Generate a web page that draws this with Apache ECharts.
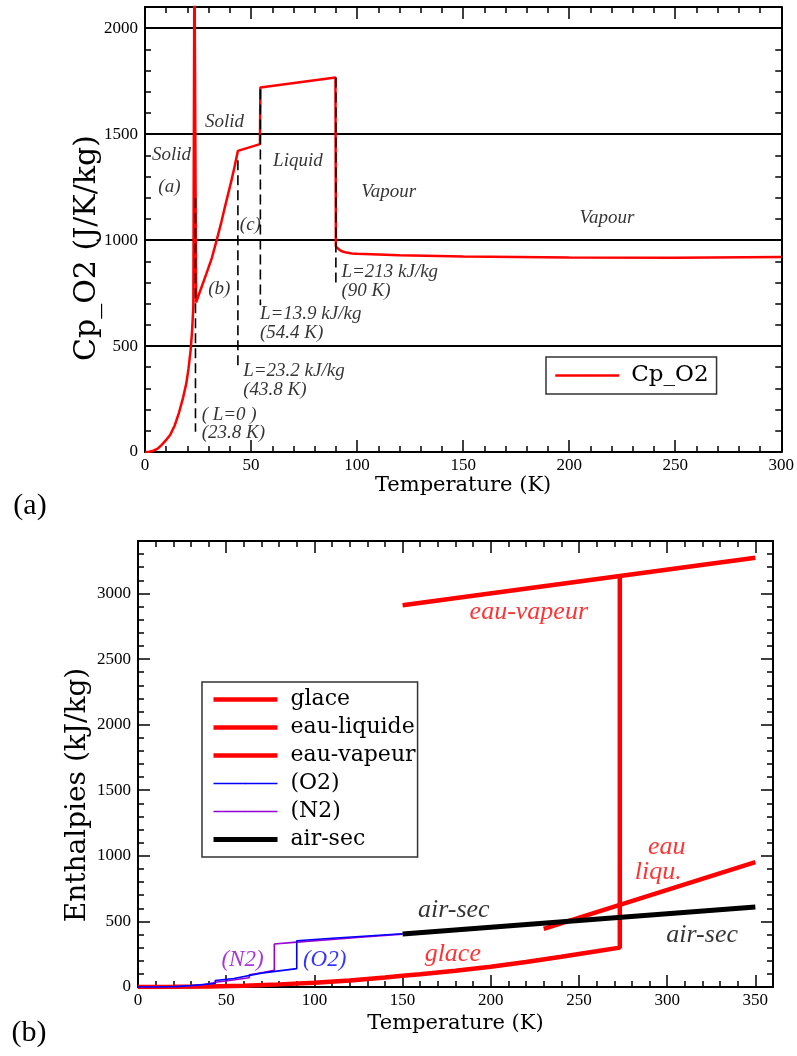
<!DOCTYPE html>
<html><head><meta charset="utf-8">
<script src="https://cdn.jsdelivr.net/npm/echarts@6/dist/echarts.min.js"></script>
<style>html,body{margin:0;padding:0;background:#fff}#c{width:797px;height:1056px}</style>
</head><body><div id="c"></div><script>
// ---------- Panel (a): Cp of O2 ----------
const cpO2 = [[0,0],[2,1],[4,6],[6,16],[8,35],[10,57],[12,83],[14,125],[16,185],[18,258],[19.5,325],[20.5,392],[21.5,480],[22.2,570],[22.8,690],[23.3,2400],[23.8,2400],[24.1,705],[26,760],[29,843],[31.5,915],[33.8,1000],[36,1085],[37.7,1157],[39.5,1230],[40.8,1283],[42.3,1350],[43.8,1421],[54.2,1453],[54.4,1720],[89.8,1767],[90,970],[91,960],[92,952],[93.5,945],[95,941],[97.5,937],[100,935],[120,928],[150,922],[200,918],[250,917],[300,920]];
const latentT = [23.8, 43.8, 54.4, 90];
const dashTop = [1197, 1377, 1711, 1767];
const dashBottom = [96, 395, 693, 799];
const notesA = [
  ['Solid', 3.3, 1401], ['Solid', 28.3, 1558], ['(a)', 6.3, 1252], ['(b)', 29.8, 767],
  ['(c)', 44.7, 1071], ['Liquid', 60.4, 1373], ['Vapour', 102, 1228], ['Vapour', 204.9, 1105],
  ['L=213 kJ/kg', 92.6, 850], ['(90 K)', 92.6, 761],
  ['L=13.9 kJ/kg', 54.2, 651], ['(54.4 K)', 54.2, 560],
  ['L=23.2 kJ/kg', 46.3, 384], ['(43.8 K)', 46.3, 292],
  ['( L=0 )', 26.7, 175], ['(23.8 K)', 26.7, 88]
];
// ---------- Panel (b): enthalpies ----------
const glace = [[0,0],[20,1],[40,4],[60,10],[80,20],[100,33],[120,50],[140,72],[150,85],[160,97],[180,124],[200,155],[220,190],[240,230],[260,272],[273.15,300],[273.15,3134]];
const eauLiquide = [[230,443],[350,952]];
const eauVapeur = [[150,2910],[350,3272]];
const o2H = [[0,0],[10,0.5],[20,3],[23.8,5],[30,11],[43.8,27],[43.8,50],[54.4,65],[54.4,79],[70,106],[90,140],[90,353],[110,372],[130,389],[150,406]];
const n2H = [[0,0],[10,0.5],[20,3],[30,9],[35.6,14],[35.6,22],[45,38],[55,55],[63.1,70],[63.1,93],[70,108],[77.3,127],[77.3,328],[90,342],[110,362],[130,383],[150,403]];
const airSec = [[150,404],[350,609]];
const notesB = [
  ['eau-vapeur', 188, 2859, '#ff0000', 26], ['eau', 289.1, 1066, '#ff0000', 26], ['liqu.', 281.6, 873, '#ff0000', 26],
  ['air-sec', 158.7, 584, '#000000', 26], ['air-sec', 299.5, 394, '#000000', 26], ['glace', 162.5, 247, '#ff0000', 26],
  ['(N2)', 47.3, 209, '#9400d3', 23], ['(O2)', 93.5, 209, '#0000ff', 23]
];

const RED = '#ff0000', BLUE = '#0000ff', PURPLE = '#9400d3';
const serif = 'Liberation Serif';
const tickStyle = {color:'#000', width:1.5};
const plain = v => String(v);

function xAx(grid, max, pos, name, gap) {
  return {
    gridIndex: grid, type: 'value', min: 0, max: max, interval: 50, position: pos,
    axisLine: {onZero: false, lineStyle: {color:'#000', width: 2}},
    axisTick: {inside: true, length: 12, lineStyle: tickStyle},
    minorTick: {show: true, splitNumber: 5, length: 6, lineStyle: tickStyle},
    axisLabel: {show: pos === 'bottom', formatter: plain, fontFamily: serif, fontSize: 17, color: '#000', margin: 5, showMaxLabel: max === 300},
    splitLine: {show: false},
    name: pos === 'bottom' ? name : '', nameLocation: 'middle', nameGap: gap,
    nameTextStyle: {fontFamily: 'DejaVu Serif', fontSize: 21, color: '#000'}
  };
}
function yAx(grid, max, pos, split) {
  return {
    gridIndex: grid, type: 'value', min: 0, max: max, interval: 500, position: pos,
    axisLine: {onZero: false, lineStyle: {color:'#000', width: 2}},
    axisTick: {inside: true, length: 12, lineStyle: tickStyle},
    minorTick: {show: true, splitNumber: 5, length: 6, lineStyle: tickStyle},
    axisLabel: {show: pos === 'left', formatter: plain, fontFamily: serif, fontSize: 17, color: '#000', margin: 7, showMaxLabel: false},
    splitLine: {show: split, lineStyle: {color: '#000', width: 1.8}}
  };
}

function noteSeries(notes, xi, yi, defColor, defSize) {
  return {
    type: 'scatter', xAxisIndex: xi, yAxisIndex: yi, symbolSize: 0, silent: true, z: 10,
    data: notes.map(n => ({
      value: [n[1], n[2]],
      label: {formatter: n[0], color: n[3] || defColor, fontSize: n[4] || defSize}
    })),
    label: {show: true, position: [0, 0], align: 'left', verticalAlign: 'middle',
            fontFamily: serif, fontStyle: 'italic'}
  };
}

const series = [];
series.push({name: 'Cp_O2', type: 'line', xAxisIndex: 0, yAxisIndex: 0, data: cpO2, symbol: 'none',
  lineStyle: {color: RED, width: 2.5}, itemStyle: {color: RED}, z: 3, clip: true});
latentT.forEach((t, i) => {
  series.push({name: 'latent' + i, type: 'line', xAxisIndex: 0, yAxisIndex: 0, symbol: 'none', z: 4,
    data: [[t, dashTop[i]], [t, dashBottom[i]]],
    lineStyle: {color: '#000', width: 1.6, type: [10, 5]}});
});
series.push(noteSeries(notesA, 0, 0, '#000', 19));

series.push({name: 'glace', type: 'line', xAxisIndex: 2, yAxisIndex: 2, data: glace, symbol: 'none',
  lineStyle: {color: RED, width: 4.5}, itemStyle: {color: RED}, z: 3});
series.push({name: 'eau-liquide', type: 'line', xAxisIndex: 2, yAxisIndex: 2, data: eauLiquide, symbol: 'none',
  lineStyle: {color: RED, width: 4.5}, itemStyle: {color: RED}, z: 3});
series.push({name: 'eau-vapeur', type: 'line', xAxisIndex: 2, yAxisIndex: 2, data: eauVapeur, symbol: 'none',
  lineStyle: {color: RED, width: 4.5}, itemStyle: {color: RED}, z: 3});
series.push({name: '(O2)', type: 'line', xAxisIndex: 2, yAxisIndex: 2, data: o2H, symbol: 'none',
  lineStyle: {color: BLUE, width: 1.6}, itemStyle: {color: BLUE}, z: 5});
series.push({name: '(N2)', type: 'line', xAxisIndex: 2, yAxisIndex: 2, data: n2H, symbol: 'none',
  lineStyle: {color: PURPLE, width: 1.6}, itemStyle: {color: PURPLE}, z: 4});
series.push({name: 'air-sec', type: 'line', xAxisIndex: 2, yAxisIndex: 2, data: airSec, symbol: 'none',
  lineStyle: {color: '#000', width: 5}, itemStyle: {color: '#000'}, z: 6});
series.push(noteSeries(notesB, 2, 2, '#000', 26));

const legendCommon = {
  orient: 'vertical', itemWidth: 64, itemHeight: 2, itemGap: 0, selectedMode: false,
  borderColor: '#333', borderWidth: 1.5, backgroundColor: '#fff'
};
const legendB = ['glace', 'eau-liquide', 'eau-vapeur', '(O2)', '(N2)', 'air-sec'];
const legendBWidth = [4.5, 4.5, 4.5, 1.6, 1.6, 5];

const option = {
  animation: false,
  backgroundColor: '#fff',
  grid: [
    {left: 145, top: 7, width: 637, height: 445},
    {left: 138, top: 541, width: 635, height: 446}
  ],
  xAxis: [
    xAx(0, 300, 'bottom', 'Temperature (K)', 22),
    xAx(0, 300, 'top', '', 0),
    xAx(1, 360, 'bottom', 'Temperature (K)', 26),
    xAx(1, 360, 'top', '', 0)
  ],
  yAxis: [
    yAx(0, 2100, 'left', true),
    yAx(0, 2100, 'right', false),
    yAx(1, 3400, 'left', false),
    yAx(1, 3400, 'right', false)
  ],
  legend: [
    Object.assign({}, legendCommon, {data: [{name: 'Cp_O2', lineStyle: {width: 2.5}}], left: 546, top: 357, padding: [3.5, 8, 3.5, 8],
      textStyle: {fontFamily: 'DejaVu Serif', fontSize: 23, color: '#000', lineHeight: 30, padding: [0, 0, 0, 7]}}),
    Object.assign({}, legendCommon, {data: legendB.map((n, i) => ({name: n, lineStyle: {width: legendBWidth[i]}})),
      left: 202, top: 682, padding: [3.5, 2, 3.5, 9],
      textStyle: {fontFamily: 'DejaVu Serif', fontSize: 22, color: '#000', lineHeight: 28, padding: [0, 0, 0, 8]}})
  ],
  graphic: [
    {type: 'text', x: 87, y: 248, rotation: Math.PI / 2, silent: true,
     style: {text: 'Cp_O2 (J/K/kg)', font: '30px "DejaVu Serif"', fill: '#000', align: 'center', verticalAlign: 'middle', textAlign: 'center', textVerticalAlign: 'middle'}},
    {type: 'text', x: 78, y: 795, rotation: Math.PI / 2, silent: true,
     style: {text: 'Enthalpies (kJ/kg)', font: '28px "DejaVu Serif"', fill: '#000', align: 'center', verticalAlign: 'middle', textAlign: 'center', textVerticalAlign: 'middle'}},
    {type: 'text', x: 30, y: 506, silent: true,
     style: {text: '(a)', font: '30px "Liberation Serif"', fill: '#000', align: 'center', verticalAlign: 'middle', textAlign: 'center', textVerticalAlign: 'middle'}},
    {type: 'text', x: 29, y: 1033, silent: true,
     style: {text: '(b)', font: '30px "Liberation Serif"', fill: '#000', align: 'center', verticalAlign: 'middle', textAlign: 'center', textVerticalAlign: 'middle'}}
  ],
  series: series
};
const chart = echarts.init(document.getElementById('c'), null, {renderer: 'canvas'});
chart.setOption(option);
</script></body></html>
